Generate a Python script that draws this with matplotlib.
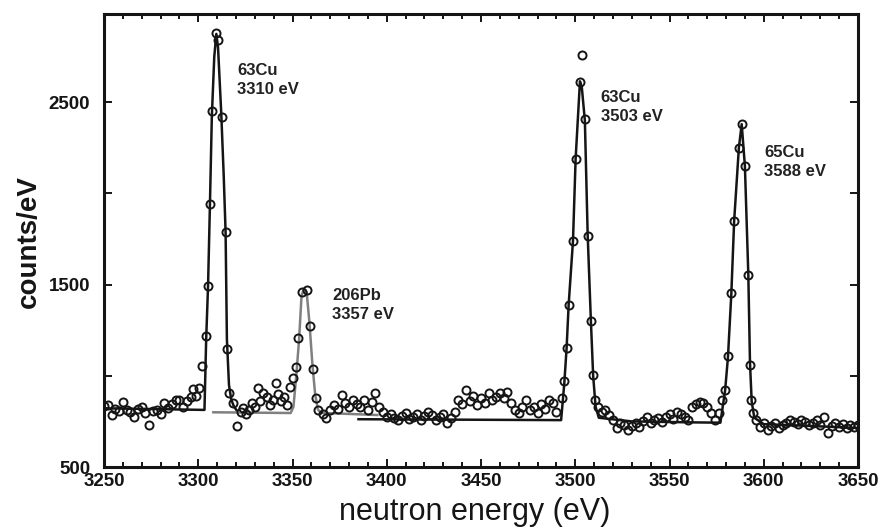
import matplotlib
matplotlib.use("Agg")
import matplotlib.pyplot as plt
from matplotlib.ticker import MultipleLocator, FixedLocator, FixedFormatter

plt.rcParams['font.family'] = ['Liberation Sans', 'DejaVu Sans']

# ---- measured data points (neutron energy in eV, counts/eV) ----
energy_ev = [
    3250, 3252, 3254, 3256, 3258, 3260, 3262, 3264, 3266, 3268,
    3270, 3272, 3274, 3276, 3278, 3280, 3282, 3284, 3286, 3288,
    3290, 3292, 3294, 3296, 3297.4, 3299, 3300.5, 3301.8, 3304.3, 3305.2,
    3306.2, 3307.2, 3309.6, 3310.3, 3312.4, 3314.5, 3315.2, 3316.5, 3318.6, 3320.7,
    3322.5, 3324, 3325.5, 3327, 3328.5, 3330, 3331.5, 3333, 3334.5, 3336.5,
    3338, 3339.5, 3341, 3342.5, 3344, 3345.5, 3347, 3348.5, 3350.4, 3352,
    3353, 3354.8, 3357.5, 3359.3, 3360.7, 3362.5, 3363.7, 3366, 3368, 3370,
    3372, 3374, 3376, 3378, 3380, 3382, 3384, 3386, 3388, 3390,
    3392, 3394, 3396, 3398, 3400, 3402, 3404, 3406, 3408, 3410,
    3412, 3414, 3416, 3418, 3420, 3422, 3424, 3426, 3428, 3430,
    3432, 3434, 3436, 3438, 3440, 3442, 3444, 3446, 3448, 3450,
    3452, 3454, 3456, 3458, 3460, 3462, 3464, 3466, 3468, 3470,
    3472, 3474, 3476, 3478, 3480, 3482, 3484, 3486, 3488, 3490,
    3493, 3494.2, 3495.4, 3496.5, 3498.8, 3500.2, 3502.5, 3503.5, 3505.1, 3506.6,
    3508.3, 3509.5, 3510.5, 3512, 3514, 3516, 3518, 3520, 3522, 3524,
    3526, 3528, 3530, 3532, 3534, 3536, 3538, 3540, 3542, 3544,
    3546, 3548, 3550, 3552, 3554, 3556, 3558, 3560, 3562, 3564,
    3566, 3568, 3570, 3572, 3574, 3576, 3577.6, 3579.5, 3581, 3582.8,
    3584.3, 3586.8, 3588.3, 3590, 3591.8, 3592.7, 3593.5, 3594.5, 3596, 3598,
    3600, 3602, 3604, 3606, 3608, 3610, 3612, 3614, 3616, 3618,
    3620, 3622, 3624, 3626, 3628, 3630, 3632, 3634, 3636, 3638,
    3640, 3642, 3644, 3646, 3648, 3650,
]
counts_per_ev = [
    835, 840, 786, 820, 805, 857, 815, 800, 775, 820,
    830, 795, 730, 805, 813, 790, 852, 825, 845, 868,
    868, 830, 860, 885, 926, 890, 932, 1055, 1216, 1494,
    1940, 2450, 2880, 2840, 2420, 1790, 1147, 908, 850, 727,
    800, 824, 790, 815, 850, 830, 934, 860, 905, 885,
    840, 870, 962, 900, 860, 885, 840, 940, 987, 1051,
    1207, 1458, 1469, 1275, 1036, 877, 813, 790, 769, 810,
    840, 820, 896, 852, 830, 868, 845, 830, 870, 815,
    855, 907, 830, 800, 775, 790, 770, 758, 780, 795,
    765, 775, 790, 760, 780, 802, 785, 760, 775, 790,
    742, 770, 800, 868, 845, 923, 860, 890, 840, 879,
    850, 907, 870, 885, 907, 880, 912, 850, 813, 797,
    830, 868, 810, 830, 795, 845, 820, 868, 852, 800,
    880, 969, 1152, 1390, 1738, 2187, 2610, 2760, 2407, 1765,
    1302, 1005, 868, 830, 802, 815, 786, 760, 714, 742,
    730, 703, 725, 742, 720, 750, 775, 740, 758, 770,
    745, 775, 790, 765, 802, 790, 775, 758, 830, 845,
    857, 850, 830, 797, 760, 797, 868, 923, 1106, 1454,
    1848, 2251, 2379, 2150, 1555, 1060, 868, 795, 760, 720,
    740, 703, 725, 740, 714, 730, 742, 760, 747, 735,
    758, 745, 730, 742, 760, 730, 775, 687, 725, 742,
    720, 735, 714, 730, 720, 731,
]

# ---- fitted curves ----
fit_cu63_low_e = [3250, 3275, 3303.3, 3304.2, 3305.2, 3306.2, 3307.2, 3308.5, 3309.6,
                  3310.5, 3312.2, 3313.5, 3314.5, 3315.2, 3316.3, 3317.5, 3318.8, 3320.5]
fit_cu63_low_c = [822, 818, 813, 1200, 1494, 1940, 2420, 2750, 2875,
                  2800, 2440, 2100, 1790, 1200, 950, 870, 835, 808]

fit_pb206_e = [3308, 3330, 3349, 3350.5, 3352, 3353.5, 3354.8, 3356, 3357.5,
               3359, 3360.5, 3362, 3363.5, 3365, 3395]
fit_pb206_c = [800, 798, 796, 830, 1000, 1200, 1440, 1475, 1460,
               1290, 1070, 900, 815, 797, 785]

fit_cu_high_e = [3385, 3450, 3492.5, 3494.2, 3495.4, 3496.5, 3498.8, 3500.2, 3502.5,
                 3503.5, 3505.1, 3506.6, 3508.3, 3509.5, 3510.8, 3512.5, 3530, 3560,
                 3577, 3579.5, 3581, 3582.8, 3584.3, 3586.8, 3588.3, 3590, 3591.8,
                 3592.7, 3593.6, 3595, 3600, 3625, 3650]
fit_cu_high_c = [762, 759, 757, 960, 1150, 1390, 1740, 2190, 2615,
                 2580, 2400, 1770, 1300, 1000, 830, 770, 750, 745,
                 743, 920, 1100, 1450, 1850, 2250, 2380, 2150, 1560,
                 1070, 860, 770, 735, 725, 714]

peak_labels = ["63Cu\n3310 eV", "206Pb\n3357 eV", "63Cu\n3503 eV", "65Cu\n3588 eV"]
peak_label_x = [3320.6, 3371, 3513.4, 3600.1]
peak_label_y = [2623, 1388, 2475, 2174]

x_ticks = [3250, 3300, 3350, 3400, 3450, 3500, 3550, 3600, 3650]
y_ticks = [500, 1000, 1500, 2000, 2500]
y_tick_labels = ["500", "", "1500", "", "2500"]

# ---- figure ----
fig = plt.figure(figsize=(8.8, 5.27), dpi=100)
ax = fig.add_axes([104 / 880, 1 - 467 / 527, 754 / 880, 453 / 527])

ax.plot(fit_cu63_low_e, fit_cu63_low_c, color='#151515', lw=1.8, zorder=2)
ax.plot(fit_pb206_e, fit_pb206_c, color='#808080', lw=1.8, zorder=2)
ax.plot(fit_cu_high_e, fit_cu_high_c, color='#151515', lw=1.8, zorder=2)
ax.plot(energy_ev, counts_per_ev, linestyle='none', marker='o', ms=5.8,
        mfc='none', mec='#151515', mew=1.4, zorder=3)

for txt, xx, yy in zip(peak_labels, peak_label_x, peak_label_y):
    ax.text(xx, yy, txt, ha='left', va='center', fontsize=12, fontweight='bold',
            linespacing=1.35, color='#222222')

ax.set_xlim(3250, 3650)
ax.set_ylim(500, 2984)

ax.xaxis.set_major_locator(FixedLocator(x_ticks))
ax.xaxis.set_minor_locator(MultipleLocator(10))
ax.yaxis.set_major_locator(FixedLocator(y_ticks))
ax.yaxis.set_major_formatter(FixedFormatter(y_tick_labels))

ax.tick_params(which='both', direction='in', top=True, right=True, width=1.4,
               colors='#151515')
ax.tick_params(which='major', length=6)
ax.tick_params(which='minor', length=3.5)
ax.tick_params(axis='x', which='major', pad=4, labelsize=13.5)
ax.tick_params(axis='y', which='major', pad=10, labelsize=13.5)
for lab in ax.get_xticklabels() + ax.get_yticklabels():
    lab.set_fontweight('bold')

for sp in ax.spines.values():
    sp.set_linewidth(2.2)
    sp.set_color('#151515')

ax.set_xlabel("neutron energy (eV)", fontsize=22, color='#151515')
ax.xaxis.label.set_va('baseline')
ax.xaxis.set_label_coords(0.492, -0.117)
ax.set_ylabel("counts/eV", fontsize=20, fontweight='bold', color='#151515')
ax.yaxis.label.set_va('center')
ax.yaxis.set_label_coords(-0.1, 0.497)

fig.savefig("out.png", dpi=100)
